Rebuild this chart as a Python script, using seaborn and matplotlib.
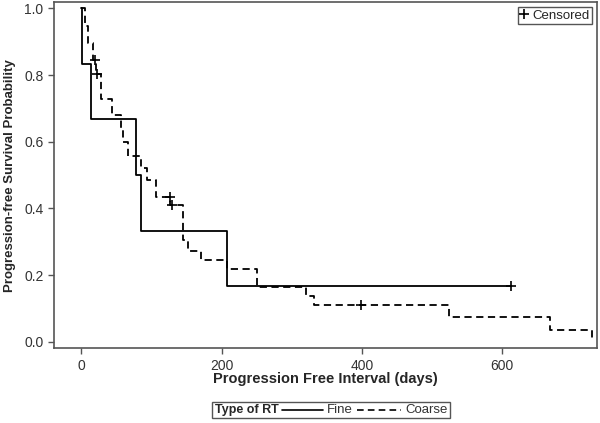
import matplotlib
matplotlib.use('Agg')
import matplotlib.pyplot as plt
from matplotlib.lines import Line2D
from matplotlib.offsetbox import AnchoredOffsetbox, HPacker, TextArea, DrawingArea
import seaborn as sns
import pandas as pd

# step curves (day, survival)
fine_days = [0, 1, 14, 78, 85, 208, 613]
fine_surv = [1.0, 0.833, 0.667, 0.5, 0.333, 0.167, 0.167]

coarse_days = [0, 5, 10, 16, 21, 28, 43, 57, 60, 66, 85, 93, 107, 126,
               145, 152, 170, 207, 251, 320, 331, 524, 668, 728]
coarse_surv = [1.0, 0.948, 0.896, 0.845, 0.803, 0.729, 0.681, 0.636, 0.598,
               0.557, 0.52, 0.485, 0.435, 0.41, 0.305, 0.272, 0.245, 0.218,
               0.165, 0.138, 0.11, 0.073, 0.035, 0.0]

# censored observations
cens_days = [613, 20, 23, 127, 129, 398]
cens_surv = [0.167, 0.845, 0.803, 0.435, 0.41, 0.11]

x_ticks = [0, 200, 400, 600]
y_ticks = [0.0, 0.2, 0.4, 0.6, 0.8, 1.0]

df = pd.concat([
    pd.DataFrame({'day': fine_days, 'surv': fine_surv, 'rt': 'Fine'}),
    pd.DataFrame({'day': coarse_days, 'surv': coarse_surv, 'rt': 'Coarse'}),
])
cens = pd.DataFrame({'day': cens_days, 'surv': cens_surv})

sns.set_style('ticks')
plt.rcParams['font.family'] = ['Liberation Sans', 'DejaVu Sans']
grey = '#555555'

fig = plt.figure(figsize=(6, 4.23), dpi=100)
ax = fig.add_axes([0.09, 0.177, 0.905, 0.818])

sns.lineplot(data=df, x='day', y='surv', style='rt', estimator=None,
             sort=False, color='black', linewidth=1.3,
             dashes={'Fine': '', 'Coarse': (4, 2.5)},
             drawstyle='steps-post', legend=False, ax=ax)
sns.scatterplot(data=cens, x='day', y='surv', marker='+', s=45,
                color='black', linewidth=1.2, ax=ax, zorder=5)

ax.set_xlim(-39, 735)
ax.set_ylim(-0.019, 1.019)
ax.set_xticks(x_ticks)
ax.set_yticks(y_ticks)
ax.set_yticklabels(['%.1f' % v for v in y_ticks])
ax.tick_params(direction='out', length=4, width=1, colors=grey,
               labelcolor='#333333', labelsize=10)
for s in ax.spines.values():
    s.set_visible(True)
    s.set_color(grey)
    s.set_linewidth(1.2)

ax.set_xlabel('Progression Free Interval (days)', fontsize=10.5,
              fontweight='bold')
ax.set_ylabel('Progression-free Survival Probability', fontsize=9.5,
              fontweight='bold')
ax.xaxis.set_label_coords(0.5, -0.07)
ax.yaxis.set_label_coords(-0.07, 0.5)

# censored legend inside the plot
h = Line2D([], [], marker='+', color='black', linestyle='none',
           markersize=7, markeredgewidth=1.2)
leg = ax.legend([h], ['Censored'], loc='upper right', fontsize=9.5,
                frameon=True, fancybox=False, framealpha=1,
                edgecolor=grey, handlelength=0.5, handletextpad=0.4,
                borderpad=0.2, borderaxespad=0.35)
leg.get_frame().set_linewidth(1.0)

# type of RT legend at bottom
da1 = DrawingArea(29, 8, 0, 0)
da1.add_artist(Line2D([0, 29], [4, 4], color='black', linewidth=1.2))
da2 = DrawingArea(32, 8, 0, 0)
da2.add_artist(Line2D([0, 32], [4, 4], color='black', linewidth=1.2,
                      dashes=(4, 2.5)))
box = HPacker(children=[
    TextArea('Type of RT', textprops=dict(fontsize=9, fontweight='bold')),
    da1,
    TextArea('Fine', textprops=dict(fontsize=9.5, color='#333333')),
    da2,
    TextArea('Coarse', textprops=dict(fontsize=9.5, color='#333333')),
], align='center', pad=0, sep=3)
anc = AnchoredOffsetbox(loc='lower center', child=box, pad=0.15,
                        borderpad=0, frameon=True,
                        bbox_to_anchor=(0.552, 0.012),
                        bbox_transform=fig.transFigure)
anc.patch.set_edgecolor(grey)
anc.patch.set_linewidth(1.0)
fig.add_artist(anc)

fig.savefig('out.png', dpi=100)
